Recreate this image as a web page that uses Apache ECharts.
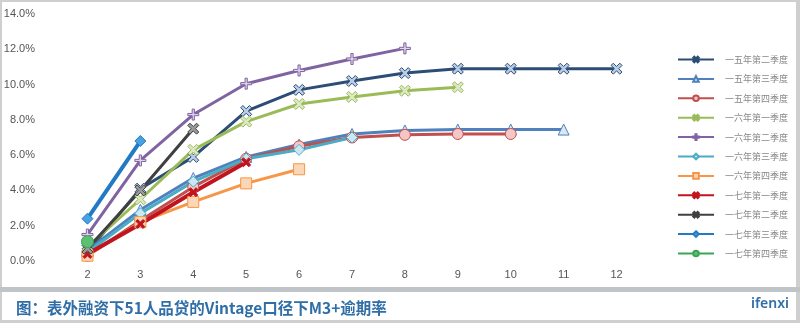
<!DOCTYPE html>
<html>
<head>
<meta charset="utf-8">
<script src="https://cdn.jsdelivr.net/npm/echarts@6/dist/echarts.min.js"></script>
<style>
  html, body { margin: 0; padding: 0; background: #fff; }
  #chart { width: 800px; height: 323px; }
</style>
</head>
<body>
<div id="chart"></div>
<script>
// months on book
const months = ['2', '3', '4', '5', '6', '7', '8', '9', '10', '11', '12']
const yTicks = [0, 2, 4, 6, 8, 10, 12, 14]

// M3+ rate (%) per vintage quarter
const q15_2 = [0.5, 4.1, 5.9, 8.5, 9.7, 10.2, 10.65, 10.9, 10.9, 10.9, 10.9]
const q15_3 = [0.6, 2.9, 4.7, 5.9, 6.6, 7.2, 7.4, 7.45, 7.45, 7.45]
const q15_4 = [0.3, 2.3, 4.2, 5.8, 6.5, 7.0, 7.15, 7.2, 7.2]
const q16_1 = [0.8, 3.5, 6.3, 7.9, 8.9, 9.3, 9.65, 9.85]
const q16_2 = [1.5, 5.7, 8.3, 10.05, 10.8, 11.45, 12.05]
const q16_3 = [0.5, 2.7, 4.5, 5.8, 6.3, 7.0]
const q16_4 = [0.3, 2.2, 3.35, 4.4, 5.2]
const q17_1 = [0.4, 2.1, 3.9, 5.6]
const q17_2 = [0.7, 4.0, 7.5]
const q17_3 = [2.4, 6.8]
const q17_4 = [1.1]

const X = 'path://M2,0L5,3L8,0L10,2L7,5L10,8L8,10L5,7L2,10L0,8L3,5L0,2Z'
const PLUS = 'path://M4,0H6V4H10V6H6V10H4V6H0V4H4Z'

function line (name, data, color, symbol, size, fill, width) {
  return {
    name: name,
    type: 'line',
    data: data,
    symbol: symbol,
    symbolSize: size,
    showAllSymbol: true,
    lineStyle: { color: color, width: width || 3 },
    itemStyle: { color: fill, borderColor: color, borderWidth: 1 },
    emphasis: { disabled: true }
  }
}

let myChart = echarts.init(document.getElementById('chart'))
let option = {
  animation: false,
  textStyle: { fontFamily: 'Liberation Sans, Arial, sans-serif' },
  title: {
    text: '图：表外融资下51人品贷的Vintage口径下M3+逾期率',
    left: 11,
    top: 295,
    textStyle: {
      color: '#2f6ea6',
      fontSize: 15.5,
      fontWeight: 'bold',
      fontFamily: 'Noto Sans CJK SC, sans-serif'
    }
  },
  graphic: [
    { type: 'rect', shape: { x: 0, y: 0, width: 800, height: 2 }, style: { fill: '#cfcfcf' } },
    { type: 'rect', shape: { x: 0, y: 0, width: 2, height: 323 }, style: { fill: '#cfcfcf' } },
    { type: 'rect', shape: { x: 796, y: 0, width: 4, height: 323 }, style: { fill: '#cfcfcf' } },
    { type: 'rect', shape: { x: 0, y: 287, width: 800, height: 5 }, style: { fill: '#bfc4c9' } },
    { type: 'rect', shape: { x: 0, y: 320, width: 800, height: 3 }, style: { fill: '#cfcfcf' } },
    {
      type: 'text', right: 11, top: 297,
      style: { text: 'ifenxi', fill: '#2f6ea6', font: '600 14px Noto Sans, sans-serif' }
    }
  ],
  color: ['#2c4d75', '#4f81bd', '#c0504d', '#9bbb59', '#8064a2', '#4bacc6',
    '#f79646', '#c0141e', '#404040', '#2279c4', '#3aa655'],
  legend: {
    orient: 'vertical',
    left: 672,
    top: 50,
    itemWidth: 36,
    itemHeight: 7,
    itemGap: 10.4,
    textStyle: { color: '#888', fontSize: 9, fontFamily: 'Noto Sans CJK SC, sans-serif', padding: [0, 0, 0, 6] }
  },
  grid: { left: 61, right: 157, top: 14, bottom: 62 },
  xAxis: {
    type: 'category',
    data: months,
    boundaryGap: true,
    axisLine: { show: false },
    axisTick: { show: false },
    axisLabel: { color: '#555', fontSize: 11, margin: 8 }
  },
  yAxis: {
    type: 'value',
    min: yTicks[0],
    max: yTicks[yTicks.length - 1],
    interval: 2,
    splitLine: { show: false },
    axisLabel: {
      color: '#555', fontSize: 11, margin: 26,
      formatter: function (v) { return v.toFixed(1) + '%' }
    }
  },
  series: [
    line('一五年第二季度', q15_2, '#2c4d75', X, 11, '#b9cde6'),
    line('一五年第三季度', q15_3, '#4f81bd', 'triangle', 11, '#dbe6f3'),
    line('一五年第四季度', q15_4, '#c0504d', 'circle', 11, '#f4c6c5'),
    line('一六年第一季度', q16_1, '#9bbb59', X, 11, '#dde9c6'),
    line('一六年第二季度', q16_2, '#8064a2', PLUS, 11, '#ddd3ea'),
    line('一六年第三季度', q16_3, '#4bacc6', 'diamond', 11, '#c9e8f1'),
    line('一六年第四季度', q16_4, '#f79646', 'rect', 11, '#fbd7b8'),
    line('一七年第一季度', q17_1, '#c0141e', X, 9, '#c0141e', 4),
    line('一七年第二季度', q17_2, '#404040', X, 11, '#9a9a9a'),
    line('一七年第三季度', q17_3, '#2279c4', 'diamond', 11, '#4aa0e0', 4),
    line('一七年第四季度', q17_4, '#3aa655', 'circle', 12, '#5cbf74')
  ]
}
myChart.setOption(option)
</script>
</body>
</html>
